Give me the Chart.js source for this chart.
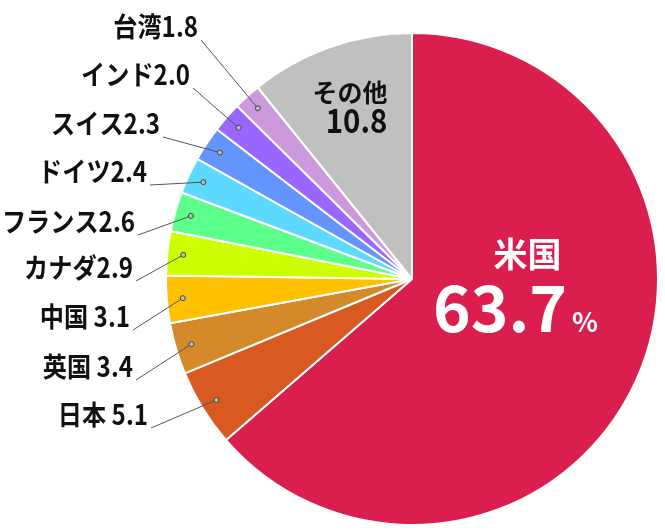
<!DOCTYPE html>
<html>
<head>
<meta charset="utf-8">
<script src="https://cdn.jsdelivr.net/npm/chart.js@4"></script>
<style>
  html, body { margin: 0; padding: 0; background: #fff; }
  #share { display: block; }
</style>
</head>
<body>
<canvas id="share" width="665" height="531"></canvas>
<script>
// Countries, clockwise from 12 o'clock
const countries = ["米国", "日本", "英国", "中国", "カナダ", "フランス", "ドイツ", "スイス", "インド", "台湾", "その他"];
// Share, %
const shares = [63.7, 5.1, 3.4, 3.1, 2.9, 2.6, 2.4, 2.3, 2.0, 1.8, 10.8];
// Text shown next to each value
const valueText = ["63.7", "5.1", "3.4", "3.1", "2.9", "2.6", "2.4", "2.3", "2.0", "1.8", "10.8"];
// Countries that carry a space before the number
const spaced = ["中国", "英国", "日本"];

const sliceColors = [
  "#da1f4f", "#d95a21", "#d4892a", "#ffc000", "#ccff00",
  "#5cff8a", "#5dd9ff", "#6495ff", "#9966ff", "#cc99dd", "#c0c0c0"
];

// Outside label spots: right edge of text and its vertical middle
const labelSpots = {
  "日本": [148, 415], "英国": [133, 367], "中国": [130, 317], "カナダ": [133, 268],
  "フランス": [135, 222], "ドイツ": [147, 172], "スイス": [160, 124],
  "インド": [190, 75], "台湾": [198, 27]
};

const FONT = '"Noto Sans CJK JP", "Noto Sans", sans-serif';

// Draws the leader lines and every piece of text
const labelPlugin = {
  id: "shareLabels",
  afterDraw(chart) {
    const ctx = chart.ctx;
    const arcs = chart.getDatasetMeta(0).data;
    const first = arcs[0];
    const cx = first.x, cy = first.y, R = first.outerRadius;

    ctx.save();
    arcs.forEach((arc, i) => {
      const name = countries[i];
      const spot = labelSpots[name];
      if (!spot) return;
      const mid = (arc.startAngle + arc.endAngle) / 2;
      const dx = cx + Math.cos(mid) * R * 0.935;
      const dy = cy + Math.sin(mid) * R * 0.935;
      const lx = spot[0] + 3, ly = spot[1] + 13;

      ctx.strokeStyle = "#555";
      ctx.lineWidth = 1;
      ctx.beginPath();
      ctx.moveTo(lx, ly);
      ctx.lineTo(dx, dy);
      ctx.stroke();

      ctx.beginPath();
      ctx.arc(dx, dy, 2.5, 0, Math.PI * 2);
      ctx.fillStyle = "#bbb";
      ctx.fill();
      ctx.strokeStyle = "#444";
      ctx.stroke();

      const txt = name + (spaced.includes(name) ? " " : "") + valueText[i];
      ctx.fillStyle = "#111";
      ctx.font = "bold 26px " + FONT;
      ctx.textAlign = "right";
      ctx.textBaseline = "middle";
      ctx.save();
      ctx.translate(spot[0], spot[1]);
      ctx.scale(0.93, 1.06);
      ctx.fillText(txt, 0, 0);
      ctx.restore();
    });

    // 米国 inside the big slice
    ctx.fillStyle = "#fff";
    ctx.textAlign = "center";
    ctx.textBaseline = "middle";
    ctx.font = "bold 34px " + FONT;
    ctx.fillText(countries[0], cx + R * 0.47, cy - R * 0.1);
    ctx.textBaseline = "alphabetic";
    ctx.textAlign = "right";
    ctx.font = "bold 64px " + FONT;
    const numRight = cx + R * 0.63;
    ctx.fillText(valueText[0], numRight, cy + R * 0.215);
    ctx.textAlign = "left";
    ctx.font = "bold 27px " + FONT;
    ctx.fillText("%", numRight + 5, cy + R * 0.215);

    // その他 inside the grey slice
    ctx.fillStyle = "#111";
    ctx.textAlign = "right";
    ctx.textBaseline = "middle";
    ctx.font = "bold 25px " + FONT;
    ctx.fillText(countries[10], cx - R * 0.1, cy - R * 0.76);
    ctx.textBaseline = "alphabetic";
    ctx.save();
    ctx.translate(cx - R * 0.1, cy - R * 0.595);
    ctx.scale(0.92, 1.05);
    ctx.font = "bold 32px " + FONT;
    ctx.fillText(valueText[10], 0, 0);
    ctx.restore();
    ctx.restore();
  }
};

new Chart(document.getElementById("share"), {
  type: "pie",
  data: {
    labels: countries,
    datasets: [{
      data: shares,
      backgroundColor: sliceColors,
      borderColor: "#fff",
      borderWidth: 2
    }]
  },
  options: {
    responsive: false,
    devicePixelRatio: 1,
    animation: false,
    layout: { padding: { left: 165, right: 6, top: 32, bottom: 5 } },
    plugins: {
      legend: { display: false },
      tooltip: { enabled: false }
    }
  },
  plugins: [labelPlugin]
});
</script>
</body>
</html>
